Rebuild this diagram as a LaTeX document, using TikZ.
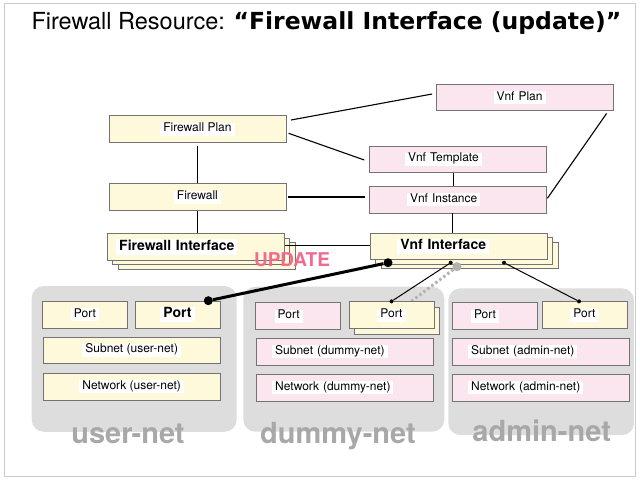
\documentclass[tikz,border=0pt]{standalone}
\usepackage{fontspec}
\setmainfont{TeX Gyre Heros}
\newfontfamily\widebold{DejaVu Sans}
\usetikzlibrary{shadows}
\definecolor{fwyellow}{HTML}{FFF9DC}
\definecolor{vnfpink}{HTML}{FBE5EE}
\definecolor{grpgrey}{HTML}{DDDDDD}
\definecolor{netgrey}{HTML}{A8A8A8}
\definecolor{updpink}{HTML}{F06C8E}
\newcommand\lbl[1]{{\setlength\fboxsep{0pt}\colorbox{white}{\hspace{3pt}\strut#1\hspace{3pt}}}}

\begin{document}
\begin{tikzpicture}[x=1pt,y=-1pt,
  box/.style={draw=black!55,line width=0.8pt,minimum width=177pt,minimum height=26.5pt,
    inner sep=0pt,font=\fontsize{12}{13}\selectfont},
  fw/.style={box,fill=fwyellow},
  vnf/.style={box,fill=vnfpink},
  small/.style={minimum width=85pt},
  strong/.style={font=\fontsize{14}{15.5}\selectfont\bfseries},
  lpad/.style 2 args={align=left,inner xsep=#1,text width=#2},
  stack/.style={copy shadow={shadow xshift=11pt,shadow yshift=-9pt},
    copy shadow={shadow xshift=5.5pt,shadow yshift=-4.5pt}},
  grp/.style={fill=grpgrey,rounded corners=12pt,inner sep=0pt},
  netlbl/.style={anchor=base,text=netgrey,font=\fontsize{29}{30}\selectfont\bfseries},
  link/.style={line width=1.1pt},
  dot/.style={circle,fill=black,inner sep=0pt,minimum size=#1}]
  \useasboundingbox (0,0) rectangle (640,480);
  \draw[black!20,line width=1pt] (4,3.5) rectangle (635,476.5);
  \node[anchor=base west,font=\fontsize{23.5}{26}\selectfont] (title) at (28,29.3)
    {Firewall Resource: {\widebold\bfseries “Firewall Interface (update)”}};

  % networks
  \node[grp,minimum width=205pt,minimum height=145.7pt] (usernet) at (134.2,358.9) {};
  \node[grp,minimum width=201pt,minimum height=145pt] (dummynet) at (343.8,359.2) {};
  \node[grp,minimum width=185.7pt,minimum height=146.7pt] (adminnet) at (541.2,361.7) {};
  \node[netlbl] (userlbl) at (128,443) {user-net};
  \node[netlbl] (dummylbl) at (338,443) {dummy-net};
  \node[netlbl] (adminlbl) at (541.7,441.7) {admin-net};

  % firewall side
  \node[fw] (fwplan) at (197.4,129) {\lbl{Firewall Plan}};
  \node[fw] (firewall) at (197.4,197) {\lbl{Firewall}};
  \node[fw,stack,strong,lpad={9pt}{159pt}] (fwif) at (195.7,247) {\lbl{Firewall Interface}};

  % vnf side
  \node[vnf,lpad={57pt}{63pt}] (vnfplan) at (525,97.5) {\lbl{Vnf Plan}};
  \node[vnf,lpad={36pt}{105pt}] (vnftmpl) at (457.5,159.3) {\lbl{Vnf Template}};
  \node[vnf,lpad={38pt}{101pt}] (vnfinst) at (457.5,199.7) {\lbl{Vnf Instance}};
  \node[fw,stack,strong,lpad={27pt}{123pt}] (vnfif) at (458.8,246.5) {\lbl{Vnf Interface}};

  \draw[link] ([shift={(4.7,-9)}]fwplan.east) -- ([shift={(-4,-3.5)}]vnfplan.west);
  \draw[link] ([shift={(2.3,4.3)}]fwplan.east) -- ([shift={(-4.3,0.7)}]vnftmpl.west);
  \draw[link,shorten <=3.5pt] (fwplan.south) -- (firewall.north);
  \draw[link,shorten <=2pt,shorten >=4pt] (firewall.east) -- (firewall.east -| vnfinst.west);
  \draw[link] ([xshift=-4pt]vnftmpl.south) -- ([xshift=-4pt]vnfinst.north);
  \draw[link] ([shift={(-7.3,2.3)}]vnfplan.south east) -- ([shift={(1,-1.4)}]vnfinst.east);
  \draw[link] (firewall.south) -- (firewall.south |- fwif.north);
  \draw[link] ([xshift=-5pt]vnfinst.south) -- ([xshift=-5pt]vnfinst.south |- vnfif.north);
  \draw[link] ([yshift=1.5pt]fwif.east) -- ([yshift=1.5pt]fwif.east -| vnfif.west);

  \node[anchor=base west,text=updpink,font=\fontsize{19}{20}\selectfont\bfseries] (upd)
    at (250.5,266) {UPDATE};

  % hidden link to the dummy port
  \node[dot=9pt,fill=black!30] (gdot) at (457,266.7) {};
  \coordinate (ghide) at (396,313);
  \draw[black!30,line width=3pt,dash pattern=on 2.5pt off 2.5pt] (gdot) -- (ghide);

  % user-net
  \node[fw,small] (uport) at (85,314.7) {\lbl{Port}};
  \node[fw,small,strong] (uport2) at (177.5,314.7) {\lbl{Port}};
  \node[fw] (usub) at (131.7,350.3) {\lbl{Subnet (user-net)}};
  \node[fw] (unet) at (131.7,386.7) {\lbl{Network (user-net)}};

  % dummy-net
  \node[vnf,small,lpad={19pt}{47pt}] (dport) at (298.2,316) {\lbl{Port}};
  \node[fw,small,copy shadow={shadow xshift=5.5pt,shadow yshift=-6pt}] (dport2) at (391.5,315) {\lbl{Port}};
  \node[vnf,lpad={16pt}{145pt}] (dsub) at (344.7,351.7) {\lbl{Subnet (dummy-net)}};
  \node[vnf,lpad={16pt}{145pt}] (dnet) at (344.7,387.7) {\lbl{Network (dummy-net)}};

  % admin-net
  \node[vnf,small,lpad={19pt}{47pt}] (aport) at (494.5,316) {\lbl{Port}};
  \node[fw,small] (aport2) at (584.5,315) {\lbl{Port}};
  \node[vnf,lpad={16pt}{145pt}] (asub) at (540.7,351.7) {\lbl{Subnet (admin-net)}};
  \node[vnf,lpad={16pt}{145pt}] (anet) at (540.7,387.7) {\lbl{Network (admin-net)}};

  % interface to ports
  \node[dot=4pt] (ddot) at (450.7,262.7) {};
  \node[dot=4pt] (ddot2) at (dport2.north) {};
  \draw[line width=1pt] (ddot) -- (ddot2);
  \node[dot=4pt] (adot) at (504,262.7) {};
  \node[dot=4pt] (adot2) at ([xshift=-5.5pt]aport2.north) {};
  \draw[line width=1pt] (adot) -- (adot2);
  \node[dot=9pt] (udot) at (388,262.7) {};
  \node[dot=9pt] (udot2) at (208.3,300.7) {};
  \draw[line width=3pt] (udot) -- (udot2);
\end{tikzpicture}
\end{document}
